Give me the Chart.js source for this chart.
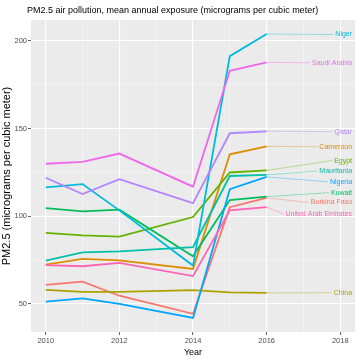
<!DOCTYPE html>
<html>
<head>
<meta charset="utf-8">
<script src="https://cdn.jsdelivr.net/npm/chart.js@4.4.1/dist/chart.umd.min.js"></script>
<style>
  html, body { margin: 0; padding: 0; background: #fff; }
  #wrap { width: 360px; height: 360px; }
</style>
</head>
<body>
<div id="wrap"><canvas id="c" width="360" height="360"></canvas></div>
<script>
// ---- data ----
const years = [2010, 2011, 2012, 2014, 2015, 2016];
const countries = ["Burkina Faso", "Cameroon", "China", "Egypt", "Kuwait", "Mauritania",
                   "Niger", "Nigeria", "Qatar", "Saudi Arabia", "United Arab Emirates"];
const burkinaFaso = [60.9, 62.7, 54.7, 44.4, 105.2, 110.5];
const cameroon    = [72.5, 75.7, 74.9, 70.0, 135.4, 139.9];
const china       = [58.0, 56.9, 56.9, 57.9, 56.6, 56.3];
const egypt       = [90.6, 89.1, 88.4, 99.6, 125.0, 126.2];
const kuwait      = [104.7, 102.8, 103.8, 77.2, 109.3, 111.2];
const mauritania  = [74.7, 79.4, 80.0, 82.4, 123.0, 123.6];
const niger       = [116.5, 118.4, 103.4, 71.9, 191.4, 204.0];
const nigeria     = [51.3, 53.2, 50.0, 42.0, 115.5, 122.5];
const qatar       = [122.0, 112.7, 121.2, 107.5, 147.4, 148.5];
const saudiArabia = [130.0, 131.0, 135.8, 116.9, 183.0, 187.8];
const uae         = [72.1, 71.5, 73.4, 65.9, 103.4, 105.2];
const seriesValues = [burkinaFaso, cameroon, china, egypt, kuwait, mauritania,
                      niger, nigeria, qatar, saudiArabia, uae];
// label anchor values (repelled label positions, data units)
const labelValues = [107.9, 139.7, 56.4, 131.8, 113.5, 125.8, 203.7, 119.7, 148.3, 187.6, 101.4];
const labelYear = 2018.32;
const xTicks = [2010, 2011, 2012, 2013, 2014, 2015, 2016, 2017, 2018];
const yTicks = [50, 75, 100, 125, 150, 175, 200];
const chartTitle = "PM2.5 air pollution, mean annual exposure (micrograms per cubic meter)";
const xTitle = "Year";
const yTitle = "PM2.5 (micrograms per cubic meter)";

// ---- styles ----
const colors = ["#F8766D", "#DB8E00", "#AEA200", "#64B200", "#00BD5C", "#00C1A7",
                "#00BADE", "#00A6FF", "#B385FF", "#EF67EB", "#FF63B6"];
const FONT = "'Liberation Sans', Arial, sans-serif";

const datasets = countries.map((name, i) => ({
  label: name,
  data: years.map((y, j) => ({ x: y, y: seriesValues[i][j] })),
  borderColor: colors[i],
  backgroundColor: colors[i],
  borderWidth: 1.8,
  pointRadius: 0,
  tension: 0,
  fill: false,
  order: -i
}));

const panelBg = {
  id: 'panelBg',
  beforeDraw(chart) {
    const { ctx, chartArea: a } = chart;
    ctx.save();
    ctx.fillStyle = '#EBEBEB';
    ctx.fillRect(a.left, a.top, a.right - a.left, a.bottom - a.top);
    ctx.restore();
  }
};

const titlePlugin = {
  id: 'ggTitle',
  afterDraw(chart) {
    const { ctx, chartArea: a } = chart;
    ctx.save();
    ctx.font = `9px ${FONT}`;
    ctx.fillStyle = '#000';
    ctx.textAlign = 'left';
    ctx.textBaseline = 'middle';
    ctx.fillText(chartTitle, a.left - 4, a.top - 9);
    ctx.restore();
  }
};

function hexA(hex, a) {
  const r = parseInt(hex.slice(1, 3), 16), g = parseInt(hex.slice(3, 5), 16), b = parseInt(hex.slice(5, 7), 16);
  return `rgba(${r},${g},${b},${a})`;
}

const repelLabels = {
  id: 'repelLabels',
  afterDatasetsDraw(chart) {
    const { ctx } = chart;
    const xs = chart.scales.x, ys = chart.scales.y;
    ctx.save();
    ctx.font = `7px ${FONT}`;
    ctx.textAlign = 'right';
    ctx.textBaseline = 'middle';
    countries.forEach((name, i) => {
      const vals = seriesValues[i];
      const px = xs.getPixelForValue(years[years.length - 1]);
      const py = ys.getPixelForValue(vals[vals.length - 1]);
      const lx = xs.getPixelForValue(labelYear);
      const ly = ys.getPixelForValue(labelValues[i]);
      const w = ctx.measureText(name).width;
      ctx.strokeStyle = hexA(colors[i], 0.55);
      ctx.lineWidth = 0.7;
      ctx.beginPath();
      ctx.moveTo(px, py);
      ctx.lineTo(lx - w - 2, ly);
      ctx.stroke();
      ctx.fillStyle = colors[i];
      ctx.fillText(name, lx, ly);
    });
    ctx.restore();
  }
};

new Chart(document.getElementById('c'), {
  type: 'line',
  data: { datasets },
  plugins: [panelBg, repelLabels, titlePlugin],
  options: {
    responsive: false,
    animation: false,
    devicePixelRatio: 1,
    layout: { padding: { top: 20, right: 5, left: 0, bottom: 0 } },
    plugins: { legend: { display: false }, tooltip: { enabled: false }, title: { display: false } },
    scales: {
      x: {
        type: 'linear',
        min: 2009.6, max: 2018.4,
        afterBuildTicks: s => { s.ticks = xTicks.map(v => ({ value: v })); },
        afterFit: s => { s.height = 28; },
        border: { display: false },
        grid: {
          color: c => (c.tick && c.tick.value % 2 === 0) ? '#FFFFFF' : 'rgba(255,255,255,0.75)',
          lineWidth: c => (c.tick && c.tick.value % 2 === 0) ? 1.1 : 0.5,
          tickColor: c => (c.tick && c.tick.value % 2 === 0) ? '#333333' : 'rgba(0,0,0,0)',
          tickLength: 3,
          tickWidth: 0.8
        },
        ticks: {
          autoSkip: false, maxRotation: 0, padding: 1,
          color: '#4D4D4D', font: { family: FONT, size: 7.5 },
          callback: v => (v % 2 === 0 ? String(v) : '')
        },
        title: { display: true, text: xTitle, color: '#000', font: { family: FONT, size: 9 }, padding: { top: 0, bottom: 2 } }
      },
      y: {
        type: 'linear',
        min: 34, max: 212,
        afterBuildTicks: s => { s.ticks = yTicks.map(v => ({ value: v })); },
        afterFit: s => { s.width = 31; },
        border: { display: false },
        grid: {
          color: c => (c.tick && c.tick.value % 50 === 0) ? '#FFFFFF' : 'rgba(255,255,255,0.75)',
          lineWidth: c => (c.tick && c.tick.value % 50 === 0) ? 1.1 : 0.5,
          tickColor: c => (c.tick && c.tick.value % 50 === 0) ? '#333333' : 'rgba(0,0,0,0)',
          tickLength: 3,
          tickWidth: 0.8
        },
        ticks: {
          autoSkip: false, padding: 1,
          color: '#4D4D4D', font: { family: FONT, size: 7.5 },
          callback: v => (v % 50 === 0 ? String(v) : '')
        },
        title: { display: true, text: yTitle, color: '#000', font: { family: FONT, size: 11 }, padding: { top: 0, bottom: 0 } }
      }
    }
  }
});
</script>
</body>
</html>
